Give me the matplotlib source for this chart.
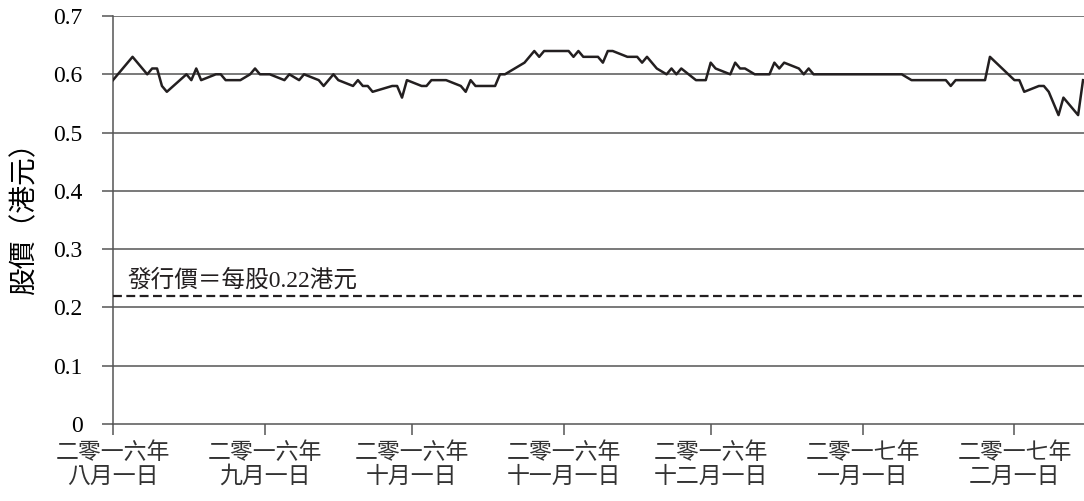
import numpy as np
import pandas as pd
import matplotlib
matplotlib.use("Agg")
import matplotlib.pyplot as plt

# days since 1 Aug 2016, and closing price (HK$)
days = [0, 4, 7, 8, 9, 10, 11, 15, 16, 17, 18, 21, 22, 23, 26, 28, 29, 30, 32,
        35, 36, 38, 39, 42, 43, 45, 46, 49, 50, 51, 52, 53, 57, 58, 59, 60, 63,
        64, 65, 68, 71, 72, 73, 74, 78, 79, 80, 84, 86, 87, 88, 93, 94, 95, 96,
        99, 100, 101, 102, 105, 107, 108, 109, 111, 113, 114, 115, 116, 119,
        121, 122, 123, 126, 127, 128, 129, 131, 134, 135, 136, 137, 140, 141,
        142, 143, 161, 163, 170, 171, 172, 178, 179, 184, 185, 186, 189, 190,
        191, 193, 194, 197, 198]
price = [0.59, 0.63, 0.60, 0.61, 0.61, 0.58, 0.57, 0.60, 0.59, 0.61, 0.59, 0.60,
         0.60, 0.59, 0.59, 0.60, 0.61, 0.60, 0.60, 0.59, 0.60, 0.59, 0.60, 0.59,
         0.58, 0.60, 0.59, 0.58, 0.59, 0.58, 0.58, 0.57, 0.58, 0.58, 0.56, 0.59,
         0.58, 0.58, 0.59, 0.59, 0.58, 0.57, 0.59, 0.58, 0.58, 0.60, 0.60, 0.62,
         0.64, 0.63, 0.64, 0.64, 0.63, 0.64, 0.63, 0.63, 0.62, 0.64, 0.64, 0.63,
         0.63, 0.62, 0.63, 0.61, 0.60, 0.61, 0.60, 0.61, 0.59, 0.59, 0.62, 0.61,
         0.60, 0.62, 0.61, 0.61, 0.60, 0.60, 0.62, 0.61, 0.62, 0.61, 0.60, 0.61,
         0.60, 0.60, 0.59, 0.59, 0.58, 0.59, 0.59, 0.63, 0.59, 0.59, 0.57, 0.58,
         0.58, 0.57, 0.53, 0.56, 0.53, 0.59]
issue_price = 0.22

tick_dates = ["2016-08-01", "2016-09-01", "2016-10-01", "2016-11-01",
              "2016-12-01", "2017-01-01", "2017-02-01"]
tick_labels = ["二零一六年\n八月一日", "二零一六年\n九月一日", "二零一六年\n十月一日",
               "二零一六年\n十一月一日", "二零一六年\n十二月一日", "二零一七年\n一月一日",
               "二零一七年\n二月一日"]
yticks = [0, 0.1, 0.2, 0.3, 0.4, 0.5, 0.6, 0.7]

start = pd.Timestamp("2016-08-01")
dates = start + pd.to_timedelta(days, unit="D")

cjk = ["Noto Sans CJK TC", "DejaVu Sans"]
serif_cjk = ["Liberation Serif", "Noto Sans CJK TC"]
grey = "#555555"
ink = "#231f20"

fig = plt.figure(figsize=(10.84, 5.01), dpi=100)
ax = fig.add_axes([0.1042, 0.1537, 0.8958, 0.8143])

for y in yticks[1:]:
    ax.axhline(y, color=grey, lw=1.1, zorder=1)

ax.plot(dates, price, color=ink, lw=1.8, zorder=3)
ax.axhline(issue_price, color=ink, lw=1.6, ls=(0, (4, 2)), zorder=3)
ax.text(start + pd.Timedelta(days=3), 0.235, "發行價＝每股0.22港元",
        family=serif_cjk, fontsize=17, color=ink)

ax.set_xlim(start, start + pd.Timedelta(days=198.2))
ax.set_ylim(0, 0.7)

ax.set_yticks(yticks)
ax.set_yticklabels(["0", "0.1", "0.2", "0.3", "0.4", "0.5", "0.6", "0.7"],
                   family="Liberation Serif", fontsize=17)
ax.set_xticks(pd.to_datetime(tick_dates))
ax.set_xticklabels(tick_labels, family=cjk, fontsize=16.5, color="#333333",
                   linespacing=1.05)
ax.tick_params(axis="y", length=8, width=1.1, color=grey, pad=14)
ax.tick_params(axis="x", length=8, width=1.1, color=grey, pad=4)

for s in ["top", "right"]:
    ax.spines[s].set_visible(False)
for s in ["left", "bottom"]:
    ax.spines[s].set_color(grey)
    ax.spines[s].set_linewidth(1.1)

fig.text(24 / 1084, 0.577, "股價（港元）", family=cjk, fontsize=20,
         fontweight="medium", rotation=90, ha="center", va="center")

fig.savefig("out.png", dpi=100)
